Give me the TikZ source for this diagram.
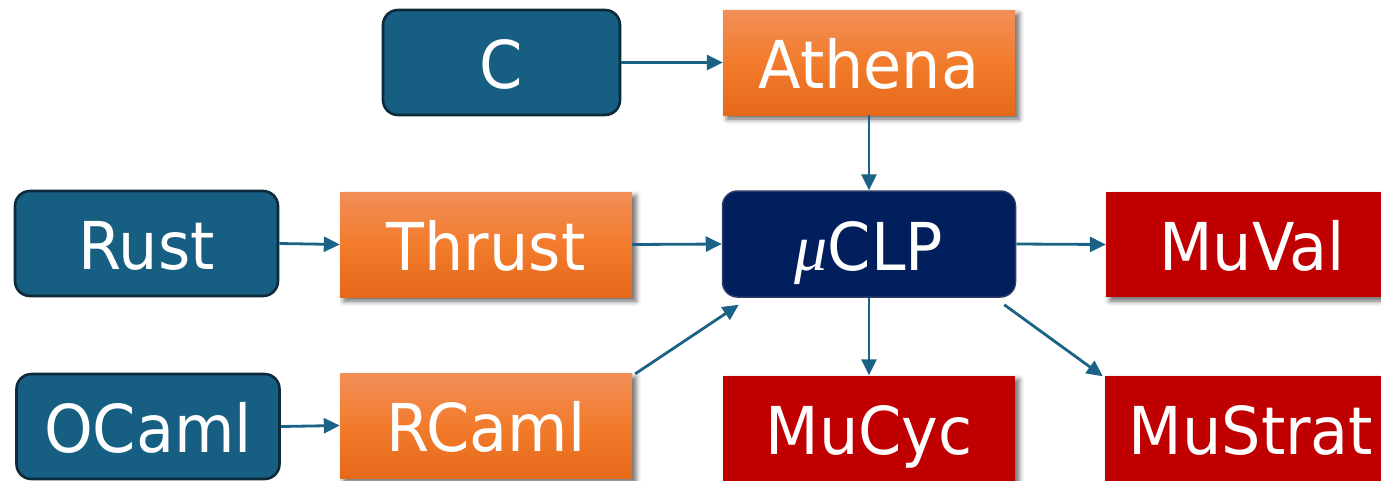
\documentclass[tikz,border=0pt]{standalone}
\usepackage{fontspec}
\newfontfamily\boxfont[FakeStretch=0.94]{DejaVu Sans}
\newfontfamily\mufont{Liberation Serif}
\usetikzlibrary{arrows.meta,shadows.blur}

\definecolor{langteal}{HTML}{175F82}
\definecolor{langedge}{HTML}{0D2A3A}
\definecolor{coreblue}{HTML}{001F5C}
\definecolor{coreedge}{HTML}{2A3C68}
\definecolor{toolred}{HTML}{C00000}
\definecolor{orangetop}{HTML}{F28F58}
\definecolor{orangemid}{HTML}{F27B2C}
\definecolor{orangebot}{HTML}{E6691A}
\definecolor{arrowcol}{HTML}{1B6386}

\tikzset{
  base/.style={minimum height=105pt, inner sep=0pt, text=white,
    text height=52pt, text depth=0pt,
    font=\boxfont\fontsize{66}{70}\selectfont},
  lang/.style={base, fill=langteal, draw=langedge, line width=2.6pt,
    rounded corners=15pt},
  boxshadow/.style={blur shadow={shadow xshift=4pt, shadow yshift=-4pt,
      shadow blur radius=5pt, shadow opacity=60}},
  frontend/.style={base, boxshadow, minimum width=292pt,
    top color=orangetop, bottom color=orangebot, middle color=orangemid},
  core/.style={base, minimum width=293pt, minimum height=106pt,
    fill=coreblue, draw=coreedge, line width=1.5pt, rounded corners=15pt},
  backend/.style={base, boxshadow, minimum width=292pt, fill=toolred},
  arr/.style={draw=arrowcol, line width=2.8pt,
    -{Triangle[length=16pt,width=15pt]}}
}

\begin{document}
\begin{tikzpicture}[x=1pt,y=-1pt]
  \useasboundingbox (0,0) rectangle (1381,480);
  \clip (0,0) rectangle (1381,480);

  % source languages
  \node[lang, minimum width=237pt] (c)     at (501.5,62.5) {C};
  \node[lang, minimum width=263pt] (rust)  at (146.5,243.5) {Rust};
  \node[lang, minimum width=263pt] (ocaml) at (148,426.5) {OCaml};

  % front ends
  \node[frontend] (athena) at (869,62.5)  {Athena};
  \node[frontend] (thrust) at (486,244.5) {Thrust};
  \node[frontend] (rcaml)  at (486,425.5) {RCaml};

  % common intermediate language
  \node[core] (mu) at (869,244) {{\mufont\itshape μ}CLP};

  % back-end solvers
  \node[backend] (muval)   at (1252,244.5) {MuVal};
  \node[backend] (mucyc)   at (869,428)    {MuCyc};
  \node[backend] (mustrat) at (1251,428)   {MuStrat};

  % connectors
  \draw[arr] (c.east) -- (athena.west);
  \draw[arr] (athena.south) -- (mu.north);
  \draw[arr] (rust.east) -- (thrust.west);
  \draw[arr] (thrust.east) -- (mu.west);
  \draw[arr] (ocaml.east) -- (rcaml.west);
  \draw[arr] ([xshift=3pt,yshift=-1pt]rcaml.north east)
          -- ([xshift=17pt,yshift=-7pt]mu.south west);
  \draw[arr] (mu.east) -- (muval.west);
  \draw[arr] (mu.south) -- (mucyc.north);
  \draw[arr] ([xshift=-12pt,yshift=-7pt]mu.south east)
          -- ([xshift=-2pt,yshift=-1pt]mustrat.north west);
\end{tikzpicture}
\end{document}
